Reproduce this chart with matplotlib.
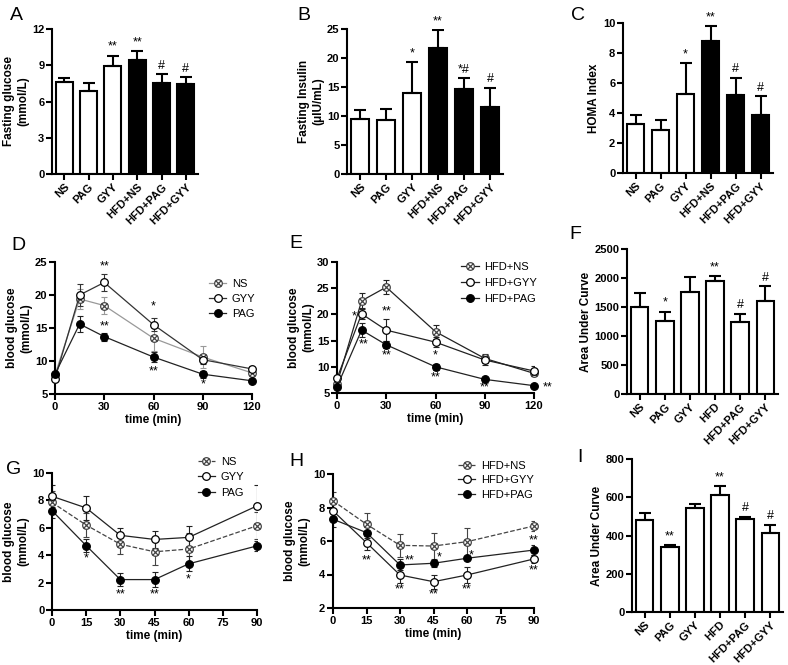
import matplotlib
matplotlib.use('Agg')
import matplotlib.pyplot as plt
import numpy as np
from matplotlib.path import Path

plt.rcParams['font.family'] = ['Liberation Sans', 'DejaVu Sans']
plt.rcParams['font.weight'] = 'bold'
plt.rcParams['axes.labelweight'] = 'bold'

# ---- data: fasting bars (A, B, C) ----
groups = ['NS', 'PAG', 'GYY', 'HFD+NS', 'HFD+PAG', 'HFD+GYY']
bar_fill = ['white', 'white', 'white', 'black', 'black', 'black']

glucose_mean = [7.6, 6.9, 8.95, 9.4, 7.5, 7.45]
glucose_err = [0.33, 0.6, 0.85, 0.75, 0.75, 0.55]
glucose_sig = ['', '', '**', '**', '#', '#']

insulin_mean = [9.5, 9.3, 13.95, 21.8, 14.65, 11.5]
insulin_err = [1.55, 1.9, 5.35, 3.05, 1.85, 3.35]
insulin_sig = ['', '', '*', '**', '*#', '#']

homa_mean = [3.24, 2.84, 5.24, 8.78, 5.18, 3.89]
homa_err = [0.6, 0.72, 2.1, 1.02, 1.18, 1.22]
homa_sig = ['', '', '*', '**', '#', '#']

# ---- data: AUC bars (F, I) ----
auc_groups = ['NS', 'PAG', 'GYY', 'HFD', 'HFD+PAG', 'HFD+GYY']
auc_fill = ['white'] * 6

gtt_auc_mean = [1500, 1265, 1760, 1940, 1250, 1605]
gtt_auc_err = [250, 155, 255, 95, 135, 250]
gtt_auc_sig = ['', '*', '', '**', '#', '#']

itt_auc_mean = [481, 341, 543, 613, 485, 412]
itt_auc_err = [35, 9, 23, 44, 11, 43]
itt_auc_sig = ['', '**', '', '**', '#', '#']

# ---- data: glucose tolerance (D, E) ----
gtt_time = [0, 15, 30, 60, 90, 120]
d_ns = [7.9, 19.4, 18.4, 13.45, 10.6, 8.2]
d_ns_err = [0.4, 1.5, 1.3, 1.9, 1.7, 0.5]
d_gyy = [7.3, 20.0, 21.9, 15.5, 10.2, 8.8]
d_gyy_err = [0.4, 1.7, 1.3, 1.0, 0.6, 0.5]
d_pag = [8.0, 15.6, 13.7, 10.6, 8.0, 7.0]
d_pag_err = [0.3, 1.15, 0.6, 0.7, 0.5, 0.3]
d_notes = [(30, 24.4, '**'), (60, 18.2, '*'), (30, 15.3, '**'),
           (60, 8.4, '**'), (90, 6.4, '*')]

e_ns = [6.8, 22.6, 25.2, 16.7, 11.6, 8.75]
e_ns_err = [0.4, 1.4, 1.4, 1.3, 0.9, 0.6]
e_gyy = [7.8, 20.1, 17.0, 14.7, 11.3, 9.2]
e_gyy_err = [0.5, 1.0, 2.1, 1.0, 1.0, 1.0]
e_pag = [6.2, 17.0, 14.2, 10.0, 7.6, 6.4]
e_pag_err = [0.4, 1.4, 0.7, 0.6, 0.3, 0.2]
e_notes = [(10.5, 19.6, '*'), (16, 14.2, '**'), (30, 20.5, '**'),
           (30, 12.1, '**'), (60, 12.1, '*'), (60, 8.0, '**'),
           (90, 6.1, '**'), (128, 6.1, '**')]

# ---- data: insulin tolerance (G, H) ----
itt_time = [0, 15, 30, 45, 60, 90]
g_ns = [7.85, 6.2, 4.8, 4.25, 4.45, 6.15]
g_ns_err = [0.8, 0.9, 0.7, 1.0, 1.2, 1.0]
g_gyy = [8.3, 7.45, 5.45, 5.15, 5.3, 7.6]
g_gyy_err = [0.8, 0.9, 0.5, 0.6, 0.8, 1.55]
g_pag = [7.25, 4.7, 2.22, 2.22, 3.37, 4.68]
g_pag_err = [0.5, 0.5, 0.5, 0.55, 0.55, 0.35]
g_notes = [(15, 3.75, '*'), (30, 1.15, '**'), (45, 1.15, '**'), (60, 2.2, '*')]

h_ns = [8.4, 7.0, 5.74, 5.7, 5.96, 6.9]
h_ns_err = [0.5, 0.7, 0.68, 0.76, 0.84, 0.3]
h_gyy = [7.8, 5.9, 3.97, 3.57, 3.97, 4.93]
h_gyy_err = [0.4, 0.45, 0.45, 0.43, 0.46, 0.25]
h_pag = [7.3, 6.5, 4.57, 4.67, 4.97, 5.46]
h_pag_err = [0.45, 0.35, 0.33, 0.2, 0.1, 0.3]
h_notes = [(15, 4.85, '**'), (34.5, 4.85, '**'), (30, 3.1, '**'),
           (47.5, 5.0, '*'), (45, 2.8, '**'), (62, 5.15, '*'),
           (60, 3.1, '**'), (90, 6.05, '**'), (90, 4.25, '**')]

W, H = 788, 665
fig = plt.figure(figsize=(W / 100, H / 100), dpi=100)


def px_axes(x0, y0, x1, y1):
    return fig.add_axes([x0 / W, 1 - y1 / H, (x1 - x0) / W, (y1 - y0) / H])


def style(ax):
    for s in ['top', 'right']:
        ax.spines[s].set_visible(False)
    for s in ['left', 'bottom']:
        ax.spines[s].set_linewidth(1.5)
    ax.tick_params(width=1.5, length=4, labelsize=8, pad=1.5)


def bar_panel(ax, labels, means, errs, sig, fills, ymax, yticks, ylabel):
    x = np.arange(len(labels))
    ax.bar(x, means, width=0.7, color=fills, edgecolor='black', linewidth=1.5, zorder=2)
    ax.errorbar(x, means, yerr=[np.zeros(len(errs)), errs], fmt='none', ecolor='black',
                elinewidth=1.5, capsize=4, capthick=1.5, zorder=3)
    for xi, m, e, s in zip(x, means, errs, sig):
        if s:
            ax.annotate(s, (xi, m + e), xytext=(0, 2), textcoords='offset points',
                        ha='center', va='bottom', fontsize=9, fontweight='normal',
                        annotation_clip=False)
    ax.set_xlim(-0.5, len(labels) - 0.5)
    ax.set_ylim(0, ymax)
    ax.set_yticks(yticks)
    ax.set_xticks(x)
    ax.set_xticklabels(labels, rotation=45, ha='right', rotation_mode='anchor')
    ax.set_ylabel(ylabel, fontsize=8.5, labelpad=2)
    style(ax)


# crossed-circle marker
circle = Path.unit_circle()
d = 0.72
cross = Path([(-d, -d), (d, d), (-d, d), (d, -d)],
             [Path.MOVETO, Path.LINETO, Path.MOVETO, Path.LINETO])
crossed = Path.make_compound_path(circle, cross)


def line_panel(ax, t, series, notes, xlim, xticks, ylim, yticks, leg_anchor, leg_space):
    for mean, err, kind, color, ls, label in series:
        ax.errorbar(t, mean, yerr=err, fmt='none', ecolor=color, elinewidth=0.8,
                    capsize=2.5, capthick=0.8, zorder=2)
        if kind == 'filled':
            mk = dict(marker='o', markerfacecolor='black', markeredgecolor='black')
        elif kind == 'open':
            mk = dict(marker='o', markerfacecolor='white', markeredgecolor='black')
        else:
            mk = dict(marker=crossed, markerfacecolor='white', markeredgecolor='#444444')
        ax.plot(t, mean, color=color, linestyle=ls, linewidth=0.9, markersize=5.5,
                markeredgewidth=0.9, label=label, clip_on=False, zorder=3, **mk)
    for x, y, s in notes:
        ax.text(x, y, s, ha='center', va='center', fontsize=9, fontweight='normal')
    ax.set_xlim(*xlim)
    ax.set_xticks(xticks)
    ax.set_ylim(*ylim)
    ax.set_yticks(yticks)
    ax.set_xlabel('time (min)', fontsize=8.5, labelpad=2)
    ax.set_ylabel('blood glucose\n(mmol/L)', fontsize=8.5, labelpad=2)
    style(ax)
    ax.legend(loc='upper left', bbox_to_anchor=leg_anchor, frameon=False,
              prop={'size': 8, 'weight': 'normal'}, handlelength=1.6,
              handletextpad=0.5, labelspacing=leg_space, borderpad=0, borderaxespad=0)


# ---- A, B, C ----
axA = px_axes(52, 29, 198, 174)
bar_panel(axA, groups, glucose_mean, glucose_err, glucose_sig, bar_fill, 12,
          [0, 3, 6, 9, 12], 'Fasting glucose\n(mmol/L)')
axB = px_axes(347, 29, 503, 174)
bar_panel(axB, groups, insulin_mean, insulin_err, insulin_sig, bar_fill, 25,
          [0, 5, 10, 15, 20, 25], 'Fasting Insulin\n(μIU/mL)')
axC = px_axes(623, 23, 773, 173)
bar_panel(axC, groups, homa_mean, homa_err, homa_sig, bar_fill, 10,
          [0, 2, 4, 6, 8, 10], 'HOMA Index')

# ---- D, E ----
axD = px_axes(55, 262, 252, 394)
line_panel(axD, gtt_time,
           [(d_ns, d_ns_err, 'crossed', '#999999', '-', 'NS'),
            (d_gyy, d_gyy_err, 'open', '#333333', '-', 'GYY'),
            (d_pag, d_pag_err, 'filled', '#222222', '-', 'PAG')],
           d_notes, (0, 120), [0, 30, 60, 90, 120], (5, 25), [5, 10, 15, 20, 25],
           (0.78, 0.87), 0.45)
axE = px_axes(337, 262, 534, 393)
line_panel(axE, gtt_time,
           [(e_ns, e_ns_err, 'crossed', '#222222', '-', 'HFD+NS'),
            (e_gyy, e_gyy_err, 'open', '#222222', '-', 'HFD+GYY'),
            (e_pag, e_pag_err, 'filled', '#222222', '-', 'HFD+PAG')],
           e_notes, (0, 120), [0, 30, 60, 90, 120], (5, 30), [5, 10, 15, 20, 25, 30],
           (0.63, 1.0), 0.55)

# ---- F ----
axF = px_axes(627, 249, 778, 394)
bar_panel(axF, auc_groups, gtt_auc_mean, gtt_auc_err, gtt_auc_sig, auc_fill, 2500,
          [0, 500, 1000, 1500, 2000, 2500], 'Area Under Curve')

# ---- G, H ----
axG = px_axes(52, 473, 257, 610)
line_panel(axG, itt_time,
           [(g_ns, g_ns_err, 'crossed', '#444444', '--', 'NS'),
            (g_gyy, g_gyy_err, 'open', '#222222', '-', 'GYY'),
            (g_pag, g_pag_err, 'filled', '#222222', '-', 'PAG')],
           g_notes, (0, 90), [0, 15, 30, 45, 60, 75, 90], (0, 10), [0, 2, 4, 6, 8, 10],
           (0.71, 1.12), 0.5)
axH = px_axes(333, 474, 534, 608)
line_panel(axH, itt_time,
           [(h_ns, h_ns_err, 'crossed', '#444444', '--', 'HFD+NS'),
            (h_gyy, h_gyy_err, 'open', '#222222', '-', 'HFD+GYY'),
            (h_pag, h_pag_err, 'filled', '#222222', '-', 'HFD+PAG')],
           h_notes, (0, 90), [0, 15, 30, 45, 60, 75, 90], (2, 10), [2, 4, 6, 8, 10],
           (0.62, 1.1), 0.42)

# ---- I ----
axI = px_axes(632, 459, 783, 612)
bar_panel(axI, auc_groups, itt_auc_mean, itt_auc_err, itt_auc_sig, auc_fill, 800,
          [0, 200, 400, 600, 800], 'Area Under Curve')

# panel letters
for letter, x, y in [('A', 16, 15), ('B', 304, 16), ('C', 578, 15),
                     ('D', 18, 245), ('E', 296, 243), ('F', 575, 235),
                     ('G', 14, 470), ('H', 296, 462), ('I', 580, 458)]:
    fig.text(x / W, 1 - y / H, letter, fontsize=14, fontweight='normal',
             ha='center', va='center')

fig.savefig('out.png', dpi=100)
